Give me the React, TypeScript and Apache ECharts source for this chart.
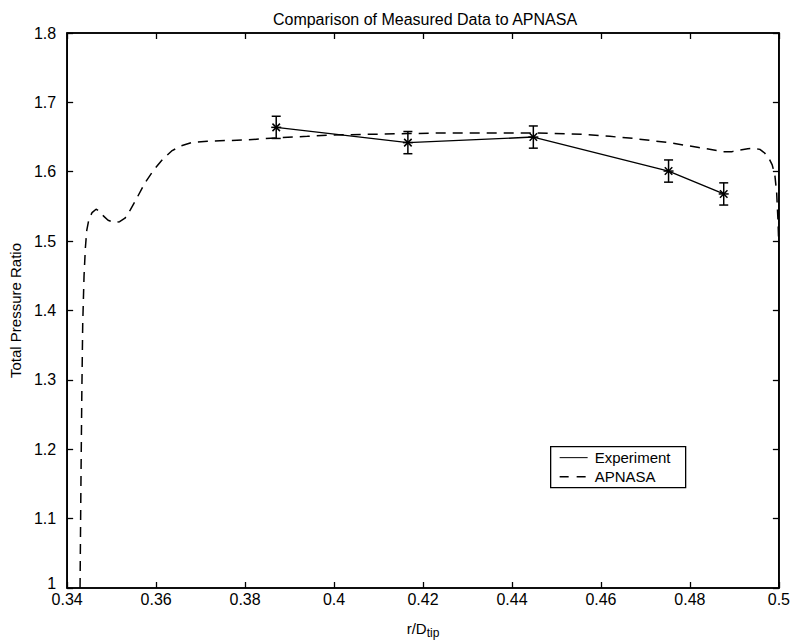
import React, { useEffect, useRef } from "react";
import * as echarts from "echarts";

const titleText = "Comparison of Measured Data to APNASA";
const xTicks = [0.34, 0.36, 0.38, 0.4, 0.42, 0.44, 0.46, 0.48, 0.5];
const yTicks = [1, 1.1, 1.2, 1.3, 1.4, 1.5, 1.6, 1.7, 1.8];

const expX = [0.387, 0.4166, 0.4448, 0.4752, 0.4876];
const expY = [1.664, 1.642, 1.65, 1.601, 1.568];
const expErr = [0.016, 0.016, 0.016, 0.016, 0.016];

const apX = [
  0.3429, 0.3431, 0.3433, 0.3435, 0.3438, 0.3441, 0.3444, 0.3449, 0.3456, 0.3465,
  0.3473, 0.3482, 0.3492, 0.3505, 0.3518, 0.353, 0.3542, 0.3555, 0.3575, 0.3595,
  0.3615, 0.3635, 0.3655, 0.368, 0.3715, 0.376, 0.3806, 0.3873, 0.394, 0.3997,
  0.408, 0.4166, 0.425, 0.4335, 0.4448, 0.456, 0.462, 0.4673, 0.4752, 0.482,
  0.4876, 0.4895, 0.491, 0.493, 0.4944, 0.4958, 0.4968, 0.4978, 0.4985, 0.4991,
  0.4995, 0.4998, 0.49995,
];
const apY = [
  1.0, 1.15, 1.28, 1.38, 1.45, 1.49, 1.515, 1.532, 1.541, 1.546,
  1.543, 1.536, 1.53, 1.527, 1.528, 1.533, 1.545, 1.56, 1.584, 1.603,
  1.618, 1.63, 1.637, 1.642, 1.644, 1.645, 1.646, 1.649, 1.651, 1.653,
  1.654, 1.655, 1.656, 1.656, 1.656, 1.654, 1.651, 1.648, 1.642, 1.635,
  1.629, 1.629, 1.631, 1.633, 1.634, 1.632, 1.627, 1.619, 1.61, 1.595,
  1.57, 1.53, 1.5,
];

const FONT = "Liberation Sans, Arial, Helvetica, sans-serif";

export default function App() {
  const ref = useRef<HTMLDivElement>(null);
  useEffect(() => {
    if (!ref.current) return;
    const chart = echarts.init(ref.current, undefined, { renderer: "svg" });
    const expData = expX.map((x, i) => [x, expY[i], expErr[i]]);
    const apData = apX.map((x, i) => [x, apY[i]]);
    const axisLine = { show: true, lineStyle: { color: "#000", width: 1.6 } };
    const tick = { show: true, inside: true, length: 6, lineStyle: { color: "#000", width: 1.3 } };
    const fmt = (v: number) => String(parseFloat(v.toFixed(2)));
    const yFmt = (v: number) => {
      const s = String(parseFloat(v.toFixed(2)));
      return Math.abs(v - yTicks[0]) < 1e-9 ? `{low|${s}}` : s;
    };
    chart.setOption({
      animation: false,
      backgroundColor: "#fff",
      textStyle: { fontFamily: FONT, color: "#000" },
      title: {
        text: titleText,
        left: 420,
        textAlign: "center",
        top: 6,
        textStyle: { fontSize: 16, fontWeight: "normal", color: "#000", fontFamily: FONT },
      },
      grid: { left: 60, right: 14, top: 33, bottom: 49, show: true, borderColor: "#000", borderWidth: 1.6, backgroundColor: "transparent" },
      xAxis: [
        {
          type: "value",
          min: xTicks[0],
          max: xTicks[xTicks.length - 1],
          interval: 0.02,
          position: "bottom",
          axisLine,
          axisTick: tick,
          splitLine: { show: false },
          axisLabel: { show: true, margin: 3, fontSize: 16, color: "#000", fontFamily: FONT, formatter: fmt },
          name: "{a|r/D}{b|tip}",
          nameLocation: "middle",
          nameGap: 29,
          nameTextStyle: {
            rich: {
              a: { fontSize: 15, color: "#000", fontFamily: FONT, lineHeight: 22, verticalAlign: "middle" },
              b: { fontSize: 12, color: "#000", fontFamily: FONT, lineHeight: 22, verticalAlign: "bottom", padding: [8, 0, 0, 0] },
            },
          },
        },
        {
          type: "value",
          min: xTicks[0],
          max: xTicks[xTicks.length - 1],
          interval: 0.02,
          position: "top",
          axisLine,
          axisTick: tick,
          splitLine: { show: false },
          axisLabel: { show: false },
        },
      ],
      yAxis: [
        {
          type: "value",
          min: yTicks[0],
          max: yTicks[yTicks.length - 1],
          interval: 0.1,
          position: "left",
          axisLine,
          axisTick: tick,
          splitLine: { show: false },
          axisLabel: {
            show: true,
            margin: 11,
            fontSize: 16,
            color: "#000",
            fontFamily: FONT,
            formatter: yFmt,
            rich: { low: { fontSize: 16, color: "#000", fontFamily: FONT, padding: [0, 0, 9, 0] } },
          },
          name: "Total Pressure Ratio",
          nameLocation: "middle",
          nameGap: 33,
          nameRotate: 90,
          nameTextStyle: { fontSize: 15, color: "#000", fontFamily: FONT },
        },
        {
          type: "value",
          min: yTicks[0],
          max: yTicks[yTicks.length - 1],
          interval: 0.1,
          position: "right",
          axisLine,
          axisTick: tick,
          splitLine: { show: false },
          axisLabel: { show: false },
        },
      ],
      series: [
        {
          name: "APNASA",
          type: "line",
          data: apData,
          showSymbol: false,
          symbol: "none",
          clip: true,
          lineStyle: { color: "#000", width: 1.5, type: [10, 7] },
          z: 2,
        },
        {
          name: "Experiment",
          type: "line",
          data: expData.map((d) => [d[0], d[1]]),
          symbol: "none",
          lineStyle: { color: "#000", width: 1.4, type: "solid" },
          z: 3,
        },
        {
          name: "ExpMarkers",
          type: "custom",
          data: expData,
          z: 4,
          renderItem: (params: any, api: any) => {
            const x = api.value(0);
            const y = api.value(1);
            const e = api.value(2);
            const c = api.coord([x, y]);
            const top = api.coord([x, y + e]);
            const bot = api.coord([x, y - e]);
            const cap = 4.5;
            const s = 5;
            const d = s * 0.75;
            const st = { stroke: "#000", lineWidth: 1.5 };
            return {
              type: "group",
              children: [
                { type: "line", shape: { x1: c[0], y1: top[1], x2: c[0], y2: bot[1] }, style: st },
                { type: "line", shape: { x1: c[0] - cap, y1: top[1], x2: c[0] + cap, y2: top[1] }, style: st },
                { type: "line", shape: { x1: c[0] - cap, y1: bot[1], x2: c[0] + cap, y2: bot[1] }, style: st },
                { type: "line", shape: { x1: c[0] - s, y1: c[1], x2: c[0] + s, y2: c[1] }, style: st },
                { type: "line", shape: { x1: c[0] - d, y1: c[1] - d, x2: c[0] + d, y2: c[1] + d }, style: st },
                { type: "line", shape: { x1: c[0] - d, y1: c[1] + d, x2: c[0] + d, y2: c[1] - d }, style: st },
              ],
            };
          },
        },
      ],
      graphic: [
        {
          type: "group",
          left: 550,
          top: 446,
          children: [
            { type: "rect", shape: { x: 0, y: 0, width: 135, height: 41 }, style: { fill: "#fff", stroke: "#000", lineWidth: 1.3 } },
            { type: "line", shape: { x1: 9, y1: 11, x2: 37, y2: 11 }, style: { stroke: "#000", lineWidth: 1 } },
            { type: "text", x: 44, y: 11, style: { text: "Experiment", font: `15px ${FONT}`, fill: "#000", verticalAlign: "middle", textAlign: "left" } },
            { type: "line", shape: { x1: 9, y1: 30, x2: 37, y2: 30 }, style: { stroke: "#000", lineWidth: 1.5, lineDash: [9, 8] } },
            { type: "text", x: 44, y: 30, style: { text: "APNASA", font: `15px ${FONT}`, fill: "#000", verticalAlign: "middle", textAlign: "left" } },
          ],
        },
      ],
    });
    return () => chart.dispose();
  }, []);
  return <div ref={ref} style={{ width: 793, height: 644, position: "absolute", left: 0, top: 0 }} />;
}
